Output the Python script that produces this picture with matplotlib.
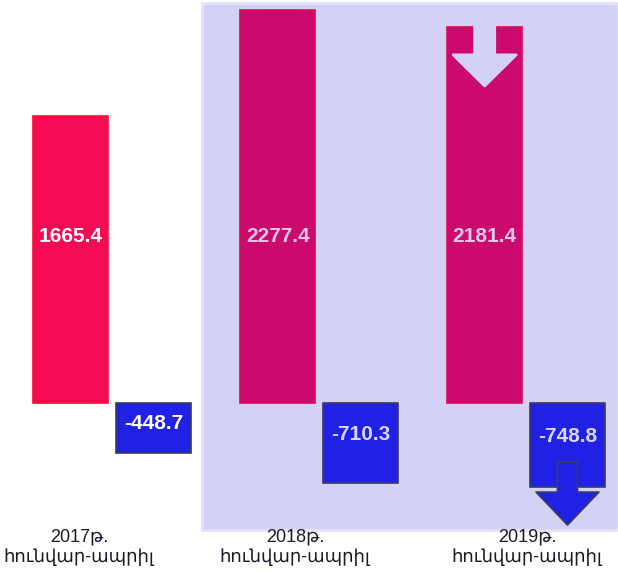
import numpy as np
import matplotlib
matplotlib.use("Agg")
import matplotlib.pyplot as plt
from matplotlib.patches import Rectangle, FancyArrow

# === Data ===
periods = ["2017թ.\nհունվար-ապրիլ", "2018թ.\nհունվար-ապրիլ", "2019թ.\nհունվար-ապրիլ"]
positive = [1665.4, 2277.4, 2181.4]
negative = [-448.7, -710.3, -748.8]

# === Style ===
plt.rcParams['font.family'] = ['Liberation Sans', 'DejaVu Sans']
RED_FILL = ["#f50a56", "#cc0a6d", "#cc0a6d"]
RED_EDGE = ["#ff1030", "#d8104e", "#d8104e"]
POS_TXT = ["white", "#e6c6ee", "#e6c6ee"]
NEG_TXT = ["white", "#d6d6ff", "#d6d6ff"]
BLUE = "#2121e6"
BLUE_EDGE = "#3b3b5c"
LAVENDER = "#d3d1f5"
K = 0.65  # negative side is drawn compressed, like the original infographic


def fwd(y):
    y = np.asarray(y, dtype=float)
    return np.where(y >= 0, y, y * K)


def inv(y):
    y = np.asarray(y, dtype=float)
    return np.where(y >= 0, y, y / K)


fig = plt.figure(figsize=(6.18, 5.75), dpi=100)
fig.patch.set_facecolor("white")
ax = fig.add_axes([0, 55 / 575, 1, 520 / 575])
ax.set_facecolor("none")
ax.set_yscale('function', functions=(fwd, inv))

# lavender panel behind the last two groups
fig.patches.append(Rectangle((202 / 618, 45 / 575), 1 - 202 / 618, 527 / 575,
                             transform=fig.transFigure, facecolor=LAVENDER,
                             edgecolor="#e4e3fa", linewidth=2, zorder=-1))

x = np.arange(len(periods))
w = 0.362
ax.bar(x - 0.2, positive, w, color=RED_FILL, edgecolor=RED_EDGE, linewidth=1.2, zorder=2)
ax.bar(x + 0.2, negative, w, color=BLUE, edgecolor=BLUE_EDGE, linewidth=1.2, zorder=2)

for i in range(len(periods)):
    ax.text(x[i] - 0.2, 962, f"{positive[i]:.1f}", ha='center', va='center',
            fontsize=15, fontweight='bold', color=POS_TXT[i], zorder=4)
    ax.text(x[i] + 0.2, negative[i] * 0.4, f"{negative[i]:.1f}", ha='center', va='center',
            fontsize=15, fontweight='bold', color=NEG_TXT[i], zorder=4)

# down arrows on the 2019 bars
ax.add_patch(FancyArrow(x[2] - 0.2, 2230, 0, -393, width=0.097, head_width=0.304,
                        head_length=180, length_includes_head=True,
                        facecolor=LAVENDER, edgecolor=LAVENDER, linewidth=2,
                        joinstyle='round', capstyle='round', zorder=3))
ax.add_patch(FancyArrow(x[2] + 0.2, -526, 0, -562, width=0.097, head_width=0.304,
                        head_length=294, length_includes_head=True,
                        facecolor=BLUE, edgecolor=BLUE_EDGE, linewidth=1.2,
                        joinstyle='round', zorder=5, clip_on=False))

ax.set_xlim(-0.541, 2.444)
ax.set_ylim(-1043, 2335)
ax.set_xticks([-0.16, 0.885, 2.005])
ax.set_xticklabels(periods, fontsize=13, color="#1a1a28", linespacing=1.2)
ax.tick_params(axis='x', length=0, pad=6)
ax.set_yticks([])
ax.minorticks_off()
for s in ax.spines.values():
    s.set_visible(False)

fig.savefig("out.png", dpi=100)
